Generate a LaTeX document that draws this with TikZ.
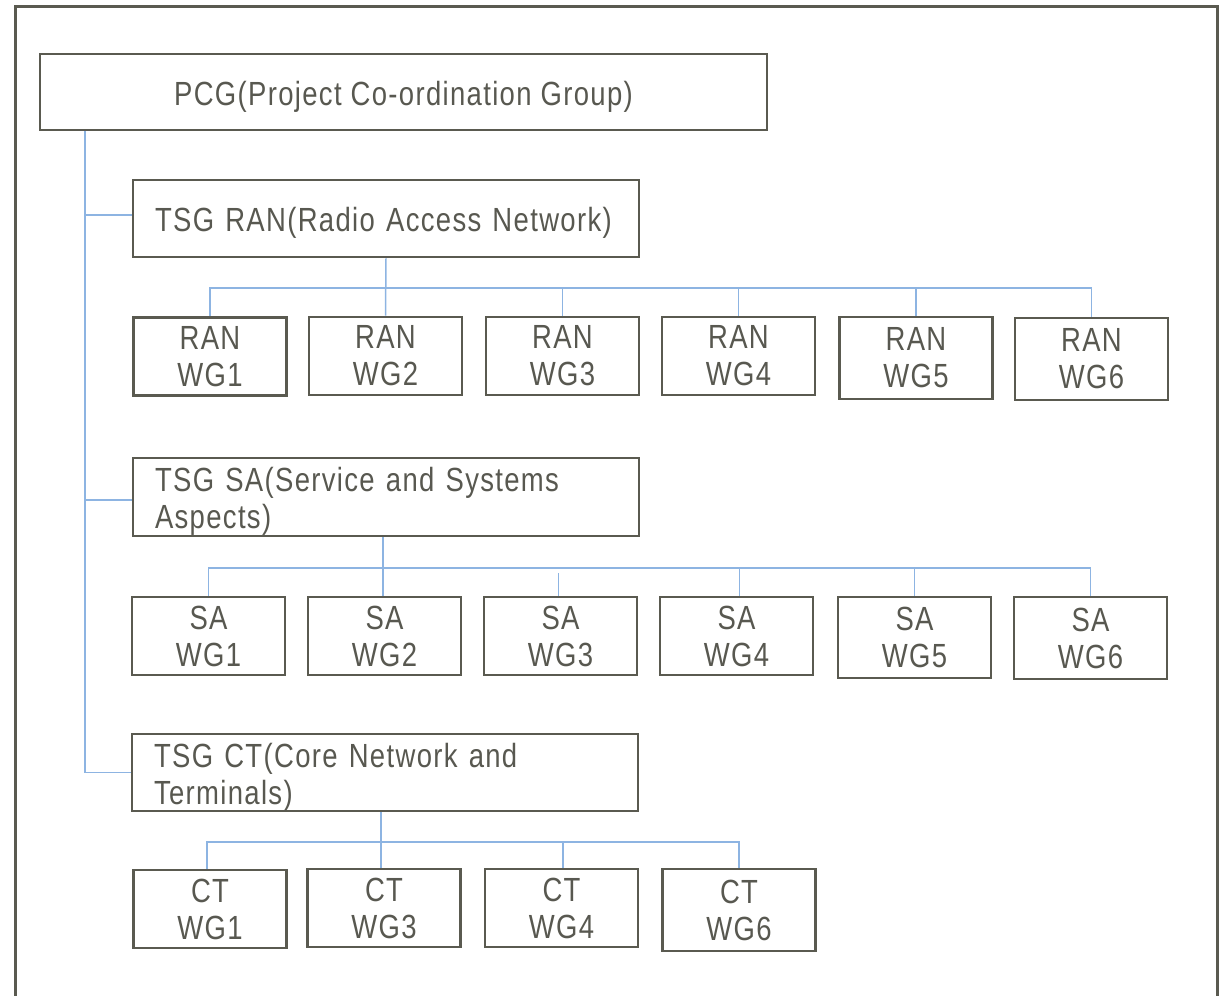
\documentclass[tikz,border=0pt]{standalone}
\usepackage{fontspec}
\setmainfont{Liberation Sans}[FakeStretch=0.82, LetterSpace=4]
\definecolor{boxline}{RGB}{90,90,80}
\definecolor{linkblue}{RGB}{141,180,226}
\definecolor{txt}{RGB}{88,88,80}
\begin{document}
\begin{tikzpicture}[x=1pt,y=-1pt,
  every node/.style={font=\fontsize{33.5}{37}\selectfont, text=txt},
  box/.style={draw=boxline, line width=2.8pt, inner sep=0pt, align=center,
    execute at begin node={\rule{0pt}{33pt}}},
  tsg/.style={box, minimum width=506pt, minimum height=77pt, text width=462pt, inner xsep=22pt, align=left},
  wg/.style={box, minimum width=153pt, minimum height=78pt},
  link/.style={draw=linkblue, line width=1.5pt},
  frame/.style={draw=boxline, line width=3pt}]
\useasboundingbox (0,0) rectangle (1221,996);
% outer frame, open at the bottom
\draw[frame] (15,1000) -- (15,6) -- (1217,6) -- (1217,1000);

% top level
\node[box, minimum width=727pt, minimum height=76pt] (pcg) at (403.5,92) {PCG(Project Co-ordination Group)};

% technical specification groups
\node[tsg] (ran) at (386,218.5) {TSG RAN(Radio Access Network)};
\node[tsg, minimum height=78pt] (sa) at (386,497) {TSG SA(Service and Systems\\Aspects)};
\node[tsg] (ct) at (385,772.5) {TSG CT(Core Network and\\Terminals)};

% RAN working groups
\node[wg] (r1) at (210,356.5) {RAN\\WG1};
\node[wg] (r2) at (385.5,356) {RAN\\WG2};
\node[wg] (r3) at (562.5,356) {RAN\\WG3};
\node[wg] (r4) at (738.5,356) {RAN\\WG4};
\node[wg, minimum height=82pt] (r5) at (916,358) {RAN\\WG5};
\node[wg, minimum height=82pt] (r6) at (1091.5,359) {RAN\\WG6};

% SA working groups
\node[wg] (s1) at (208.5,636) {SA\\WG1};
\node[wg] (s2) at (384.5,636) {SA\\WG2};
\node[wg] (s3) at (560.5,636) {SA\\WG3};
\node[wg] (s4) at (736.5,636) {SA\\WG4};
\node[wg, minimum height=81pt] (s5) at (914.5,637.5) {SA\\WG5};
\node[wg, minimum height=82pt] (s6) at (1090.5,638) {SA\\WG6};

% CT working groups
\node[wg] (c1) at (210,909) {CT\\WG1};
\node[wg] (c3) at (384,908) {CT\\WG3};
\node[wg] (c4) at (561.5,908) {CT\\WG4};
\node[wg, minimum height=82pt] (c6) at (739,910) {CT\\WG6};

% spine from PCG to the TSGs
\coordinate (spine) at (85,0);
\coordinate (ranin) at ([yshift=3.5pt]ran.west);
\coordinate (sain) at ([yshift=-3pt]sa.west);
\draw[link] (spine |- pcg.south) |- (ct.west);
\draw[link] (spine |- ranin) -- (ranin);
\draw[link] (spine |- sain) -- (sain);

% RAN bus
\coordinate (ranbus) at (0,288);
\draw[link] (ran.south) -- (r2.north);
\draw[link] (r1.north) |- (r6.north |- ranbus) -- (r6.north);
\foreach \n in {r3,r4,r5} \draw[link] (\n.north) -- (\n.north |- ranbus);

% SA bus
\coordinate (sabus) at (0,568);
\coordinate (satrunk) at ([xshift=-3pt]sa.south);
\draw[link] (satrunk) -- (satrunk |- s2.north);
\draw[link] (s1.north) |- (s6.north |- sabus) -- (s6.north);
\draw[link, shorten >=5pt] ([xshift=-2pt]s3.north) -- ([xshift=-2pt]s3.north |- sabus);
\draw[link] ([xshift=3pt]s4.north) -- ([xshift=3pt]s4.north |- sabus);
\draw[link] (s5.north) -- (s5.north |- sabus);

% CT bus
\coordinate (ctbus) at (0,842);
\coordinate (cttrunk) at ([xshift=-4pt]ct.south);
\coordinate (ctleft) at ([xshift=-3pt]c1.north);
\draw[link] (cttrunk) -- (cttrunk |- c3.north);
\draw[link] (ctleft) |- (c6.north |- ctbus) -- (c6.north);
\draw[link] ([xshift=1.5pt]c4.north) -- ([xshift=1.5pt]c4.north |- ctbus);
\end{tikzpicture}
\end{document}
